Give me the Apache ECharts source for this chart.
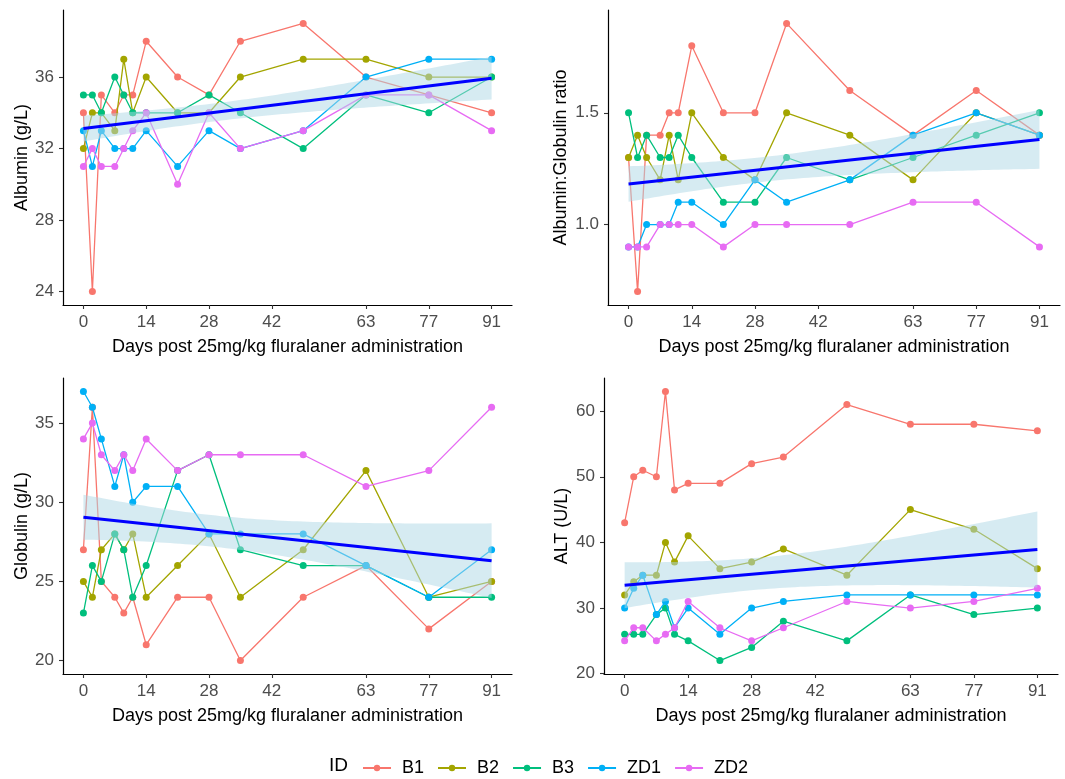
<!DOCTYPE html>
<html><head><meta charset="utf-8">
<script src="https://cdn.jsdelivr.net/npm/echarts@6/dist/echarts.min.js"></script>
<style>html,body{margin:0;padding:0;background:#fff}#c{width:1065px;height:779px}</style>
</head><body><div id="c"></div>
<script>
// ---------- data ----------
const days = [0, 2, 4, 7, 9, 11, 14, 21, 28, 35, 49, 63, 77, 91];
const ids = ['B1', 'B2', 'B3', 'ZD1', 'ZD2'];
const colors = ['#F8766D', '#A3A500', '#00BF7D', '#00B0F6', '#E76BF3'];

// rows follow ids order
const albumin = [
  [34, 24, 35, 34, 35, 35, 38, 36, 35, 38, 39, 36, 35, 34],
  [32, 34, 34, 33, 37, 34, 36, 34, 34, 36, 37, 37, 36, 36],
  [35, 35, 34, 36, 35, 34, 34, 34, 35, 34, 32, 35, 34, 36],
  [33, 31, 33, 32, 32, 32, 33, 31, 33, 32, 33, 36, 37, 37],
  [31, 32, 31, 31, 32, 33, 34, 30, 34, 32, 33, 35, 35, 33]
];
const agRatio = [
  [1.3, 0.7, 1.4, 1.4, 1.5, 1.5, 1.8, 1.5, 1.5, 1.9, 1.6, 1.4, 1.6, 1.4],
  [1.3, 1.4, 1.3, 1.2, 1.4, 1.2, 1.5, 1.3, 1.2, 1.5, 1.4, 1.2, 1.5, 1.4],
  [1.5, 1.3, 1.4, 1.3, 1.3, 1.4, 1.3, 1.1, 1.1, 1.3, 1.2, 1.3, 1.4, 1.5],
  [0.9, 0.9, 1.0, 1.0, 1.0, 1.1, 1.1, 1.0, 1.2, 1.1, 1.2, 1.4, 1.5, 1.4],
  [0.9, 0.9, 0.9, 1.0, 1.0, 1.0, 1.0, 0.9, 1.0, 1.0, 1.0, 1.1, 1.1, 0.9]
];
const globulin = [
  [27, 36, 25, 24, 23, 24, 21, 24, 24, 20, 24, 26, 22, 25],
  [25, 24, 27, 28, 27, 28, 24, 26, 28, 24, 27, 32, 24, 25],
  [23, 26, 25, 28, 27, 24, 26, 32, 33, 27, 26, 26, 24, 24],
  [37, 36, 34, 31, 33, 30, 31, 31, 28, 28, 28, 26, 24, 27],
  [34, 35, 33, 32, 33, 32, 34, 32, 33, 33, 33, 31, 32, 36]
];
const alt = [
  [43, 50, 51, 50, 63, 48, 49, 49, 52, 53, 61, 58, 58, 57],
  [32, 34, 35, 35, 40, 37, 41, 36, 37, 39, 35, 45, 42, 36],
  [26, 26, 26, 29, 30, 26, 25, 22, 24, 28, 25, 32, 29, 30],
  [30, 33, 35, 29, 31, 27, 30, 26, 30, 31, 32, 32, 32, 32],
  [25, 27, 27, 25, 26, 27, 31, 27, 25, 27, 31, 30, 31, 33]
];

const dayTicks = [0, 14, 28, 42, 63, 77, 91];
const albTicks = [24, 28, 32, 36];
const ratioTicks = [1.0, 1.5];
const globTicks = [20, 25, 30, 35];
const altTicks = [20, 30, 40, 50, 60];

const xTitle = 'Days post 25mg/kg fluralaner administration';
const yTitles = ['Albumin (g/L)', 'Albumin:Globulin ratio', 'Globulin (g/L)', 'ALT (U/L)'];

// ---------- linear fit with 95% CI (as geom_smooth(method = "lm")) ----------
function lmFit(vals) {
  const xs = [], ys = [];
  vals.forEach(row => row.forEach((v, j) => { xs.push(days[j]); ys.push(v); }));
  const n = xs.length;
  const xm = xs.reduce((a, b) => a + b, 0) / n;
  const ym = ys.reduce((a, b) => a + b, 0) / n;
  let sxx = 0, sxy = 0;
  for (let i = 0; i < n; i++) { sxx += (xs[i] - xm) ** 2; sxy += (xs[i] - xm) * (ys[i] - ym); }
  const b = sxy / sxx, a = ym - b * xm;
  let sse = 0;
  for (let i = 0; i < n; i++) sse += (ys[i] - a - b * xs[i]) ** 2;
  const s = Math.sqrt(sse / (n - 2));
  const t = 1.9955; // t(0.975, df = 68)
  const x0 = Math.min(...xs), x1 = Math.max(...xs);
  const upper = [], lower = [];
  for (let k = 0; k <= 80; k++) {
    const x = x0 + (x1 - x0) * k / 80;
    const yh = a + b * x;
    const se = s * Math.sqrt(1 / n + (x - xm) ** 2 / sxx);
    upper.push([x, yh + t * se]);
    lower.push([x, yh - t * se]);
  }
  return { line: [[x0, a + b * x0], [x1, a + b * x1]], upper, lower };
}

function range(vals) {
  const all = vals.flat();
  const lo = Math.min(...all), hi = Math.max(...all);
  const pad = (hi - lo) * 0.05;
  return [lo - pad, hi + pad];
}

const FONT = '"Liberation Sans", Arial, sans-serif';
const panels = [
  { vals: albumin, ticks: albTicks, grid: { left: 63, top: 10, width: 449, height: 295 }, gap: 32, fmt: v => String(v) },
  { vals: agRatio, ticks: ratioTicks, grid: { left: 608, top: 10, width: 452, height: 295 }, gap: 38, fmt: v => v.toFixed(1) },
  { vals: globulin, ticks: globTicks, grid: { left: 63, top: 378, width: 449, height: 296 }, gap: 32, fmt: v => String(v) },
  { vals: alt, ticks: altTicks, grid: { left: 604, top: 378, width: 454, height: 296 }, gap: 33, fmt: v => String(v) }
];

const grids = [], xAxes = [], yAxes = [], series = [];
const xSpan = days[days.length - 1] - days[0];
panels.forEach((p, i) => {
  grids.push(Object.assign({ containLabel: false }, p.grid));
  xAxes.push({
    gridIndex: i, type: 'value', min: days[0] - xSpan * 0.05, max: days[days.length - 1] + xSpan * 0.05,
    name: xTitle, nameLocation: 'middle', nameGap: 33,
    nameTextStyle: { color: '#000', fontSize: 18, fontFamily: FONT },
    axisLine: { show: true, onZero: false, lineStyle: { color: '#000', width: 1.2 } },
    axisTick: { show: true, length: 4, customValues: dayTicks, lineStyle: { color: '#333', width: 1.1 } },
    axisLabel: { customValues: dayTicks, margin: 9, color: '#4d4d4d', fontSize: 17, fontFamily: FONT },
    splitLine: { show: false }
  });
  const [lo, hi] = range(p.vals);
  yAxes.push({
    gridIndex: i, type: 'value', min: lo, max: hi,
    name: yTitles[i], nameLocation: 'middle', nameGap: p.gap, nameRotate: 90,
    nameTextStyle: { color: '#000', fontSize: 18, fontFamily: FONT },
    axisLine: { show: true, onZero: false, lineStyle: { color: '#000', width: 1.2 } },
    axisTick: { show: true, length: 4, customValues: p.ticks, lineStyle: { color: '#333', width: 1.1 } },
    axisLabel: { customValues: p.ticks, margin: 9, color: '#4d4d4d', fontSize: 17, fontFamily: FONT, formatter: p.fmt },
    splitLine: { show: false }
  });
  p.vals.forEach((row, k) => {
    series.push({
      type: 'line', name: ids[k], xAxisIndex: i, yAxisIndex: i, z: 2 + k * 0.01,
      data: row.map((v, j) => [days[j], v]),
      symbol: 'circle', symbolSize: 7, showSymbol: true,
      lineStyle: { color: colors[k], width: 1.3 },
      itemStyle: { color: colors[k] },
      emphasis: { disabled: true }
    });
  });
  const fit = lmFit(p.vals);
  series.push({
    type: 'custom', xAxisIndex: i, yAxisIndex: i, z: 5, silent: true,
    data: [[0, 0]],
    renderItem: (params, api) => {
      const pts = fit.upper.map(q => api.coord(q)).concat(fit.lower.slice().reverse().map(q => api.coord(q)));
      return { type: 'polygon', shape: { points: pts }, style: { fill: 'rgba(173,216,230,0.5)' } };
    }
  });
  series.push({
    type: 'line', xAxisIndex: i, yAxisIndex: i, z: 6, silent: true,
    data: fit.line, symbol: 'none', showSymbol: false,
    lineStyle: { color: '#0000FF', width: 3 }
  });
});

const chart = echarts.init(document.getElementById('c'), null, { renderer: 'canvas' });
chart.setOption({
  backgroundColor: '#fff',
  animation: false,
  color: colors,
  textStyle: { fontFamily: FONT },
  grid: grids, xAxis: xAxes, yAxis: yAxes, series,
  legend: {
    data: ids, left: 357, top: 754, itemWidth: 28, itemHeight: 8, itemGap: 13,
    textStyle: { fontSize: 18, color: '#000', fontFamily: FONT, padding: [0, 0, 0, 6] }
  },
  graphic: [{ type: 'text', left: 329, top: 756, style: { text: 'ID', fontSize: 19, fill: '#000', fontFamily: FONT } }]
});
</script></body></html>
